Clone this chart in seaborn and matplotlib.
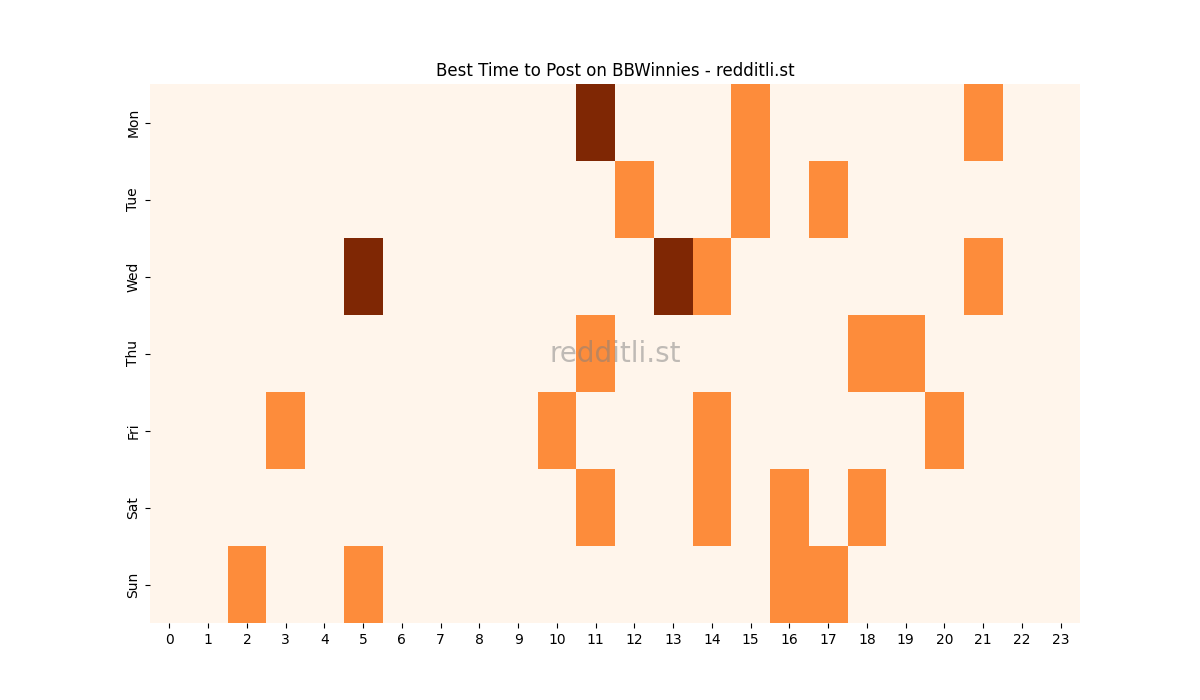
import numpy as np
import pandas as pd
import matplotlib
matplotlib.use("Agg")
import matplotlib.pyplot as plt
import seaborn as sns

# ==========================================
# DATA
# ==========================================

days = ["Mon", "Tue", "Wed", "Thu", "Fri", "Sat", "Sun"]
hours = list(range(24))

# hour -> level (1 = good, 2 = best)
mon = {11: 2, 15: 1, 21: 1}
tue = {12: 1, 15: 1, 17: 1}
wed = {5: 2, 13: 2, 14: 1, 21: 1}
thu = {11: 1, 18: 1, 19: 1}
fri = {3: 1, 10: 1, 14: 1, 20: 1}
sat = {11: 1, 14: 1, 16: 1, 18: 1}
sun = {2: 1, 5: 1, 16: 1, 17: 1}

rows = [mon, tue, wed, thu, fri, sat, sun]
grid = pd.DataFrame(
    [[r.get(h, 0) for h in hours] for r in rows],
    index=days,
    columns=hours
)

# ==========================================
# HEATMAP
# ==========================================

fig, ax = plt.subplots(figsize=(12, 7), dpi=100)

sns.heatmap(
    grid,
    cmap="Oranges",
    cbar=False,
    ax=ax
)

ax.set_title("Best Time to Post on BBWinnies - redditli.st")
ax.set_xlabel("")
ax.set_ylabel("")
ax.tick_params(axis="x", rotation=0)

ax.text(
    0.5, 0.5, "redditli.st",
    transform=ax.transAxes,
    ha="center", va="center",
    fontsize=20, color="gray", alpha=0.5
)

plt.savefig("out.png")
